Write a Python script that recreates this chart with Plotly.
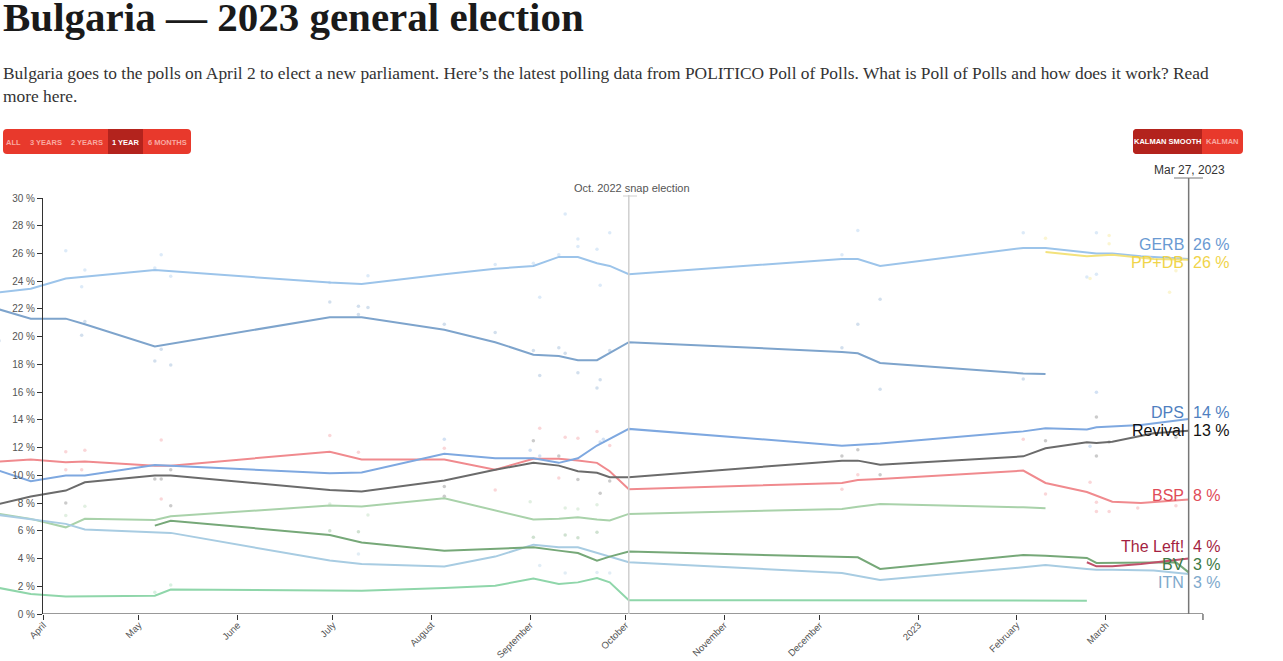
import plotly.graph_objects as go

# ---------------- data ----------------
dates = ["2022-03-18", "2022-03-28", "2022-04-08", "2022-04-14", "2022-05-06", "2022-05-11",
         "2022-06-30", "2022-07-10", "2022-08-05", "2022-08-21", "2022-09-02", "2022-09-10",
         "2022-09-16", "2022-09-22", "2022-09-26", "2022-10-02", "2022-12-08", "2022-12-13",
         "2022-12-20", "2023-02-03", "2023-02-10", "2023-02-23", "2023-02-26", "2023-03-03",
         "2023-03-12", "2023-03-16", "2023-03-23", "2023-03-27"]
N = None
gerb    = [23.2, 23.45, 24.2, N, 24.8, N, 23.9, 23.8, 24.5, 24.9, 25.1, 25.75, 25.75, 25.3, 25.1, 24.5,
           25.6, 25.6, 25.1, 26.4, 26.4, 26.1, 26.0, 26.0, 25.8, N, N, 25.6]
pp_db   = [N] * 20 + [26.1, 25.8, N, 25.9, N, 25.6, N, 25.55]
pp      = [21.97, 21.3, 21.3, 20.9, 19.3, N, 21.4, 21.4, 20.5, 19.6, 18.7, 18.6, 18.3, 18.3, N, 19.6,
           18.9, 18.8, 18.1, 17.35, 17.3] + [N] * 7
dps     = [10.34, 9.57, 9.98, 9.98, 10.75, 10.7, 10.15, 10.2, 11.55, 11.23, 11.23, 10.9, 11.23, 12.15, N,
           13.35, 12.14, N, 12.3, 13.17, 13.4, 13.3, 13.46, N, 13.63, N, N, 14.06]
revival = [7.94, 8.47, 8.9, 9.5, 9.98, 9.98, 8.95, 8.83, 9.62, 10.4, 10.9, 10.7, 10.3, 10.18, 9.86, 9.86,
           11.06, 11.06, 10.77, 11.37, 11.95, 12.38, 12.33, 12.43, N, 13.03, N, 13.22]
bsp     = [11.0, 11.14, 10.95, 11.0, 10.7, 10.7, 11.7, 11.14, 11.14, 10.4, 11.2, 11.2, 11.07, 10.9, 10.3,
           9.0, 9.45, 9.67, 9.74, 10.34, 9.45, 8.8, N, 8.1, 8.0, N, N, 8.25]
db      = [7.22, 6.86, 6.25, 6.86, 6.78, 7.05, 7.82, 7.75, 8.35, N, 6.81, 6.86, 6.98, 6.81, 6.74, 7.22,
           7.57, 7.74, 7.93, 7.69, 7.62] + [N] * 7
itn     = [7.14, 6.86, 6.5, 6.09, 5.89, 5.85, 3.85, 3.6, 3.42, 4.14, 5.0, 4.81, 4.81, 4.4, 4.14, 3.73,
           2.96, 2.76, 2.45, 3.37, 3.53, 3.25, 3.2, 3.2, N, 3.13, N, 2.88]
bv      = [N, N, N, N, 6.37, 6.73, 5.7, 5.15, 4.57, 4.69, 4.81, 4.57, 4.4, 3.85, 4.14, 4.5,
           4.09, 4.09, 3.25, 4.25, 4.2, 4.04, 3.68, 3.68, 3.68, N, 3.73, 3.0]
the_left = [N] * 21 + [3.73, 3.44, 3.44, 3.6, N, N, 4.0]
stand_up = [1.88, 1.44, 1.27, 1.27, 1.32, 1.76, 1.68, 1.68, 1.88, 2.04, 2.55, 2.16, 2.28, 2.6, 2.28,
            1.0, N, N, N, N, N, 0.96] + [N] * 6

series_names = ["Stand Up", "DB", "ITN", "BV", "BSP", "Revival", "DPS", "PP", "GERB", "PP+DB", "The Left!"]
series_values = [stand_up, db, itn, bv, bsp, revival, dps, pp, gerb, pp_db, the_left]

# individual polls (faint dots)
poll_party = (["GERB"] * 24 + ["PP"] * 25 + ["BSP"] * 26 + ["Revival"] * 20 + ["DPS"] * 7
              + ["ITN"] * 5 + ["DB"] * 8 + ["BV"] * 6 + ["PP+DB"] * 6 + ["Stand Up"] * 2)
poll_date = (
    ["2022-04-08", "2022-04-14", "2022-04-13", "2022-05-06", "2022-05-08", "2022-05-11", "2022-06-30",
     "2022-07-12", "2022-08-21", "2022-09-02", "2022-09-12", "2022-09-16", "2022-09-16", "2022-09-22",
     "2022-09-23", "2022-09-26", "2022-09-10", "2022-09-04", "2022-12-08", "2022-12-13", "2023-02-03",
     "2023-02-23", "2023-02-26", "2023-02-26"]
    + ["2022-03-18", "2022-04-13", "2022-04-14", "2022-05-08", "2022-05-06", "2022-05-11", "2022-06-30",
       "2022-07-09", "2022-07-12", "2022-07-09", "2022-08-05", "2022-08-21", "2022-09-02", "2022-09-04",
       "2022-09-10", "2022-09-12", "2022-09-16", "2022-09-22", "2022-09-23", "2022-09-26", "2022-12-08",
       "2022-12-13", "2022-12-20", "2022-12-20", "2023-02-03"]
    + ["2022-04-08", "2022-04-08", "2022-04-13", "2022-04-14", "2022-05-08", "2022-05-08", "2022-06-30",
       "2022-07-09", "2022-08-05", "2022-08-21", "2022-09-04", "2022-09-10", "2022-09-12", "2022-09-16",
       "2022-09-22", "2022-09-26", "2022-12-08", "2022-12-13", "2023-02-03", "2023-02-10", "2023-02-24",
       "2023-02-26", "2023-02-26", "2023-03-02", "2023-03-11", "2023-03-23"]
    + ["2022-04-08", "2022-05-06", "2022-05-08", "2022-05-11", "2022-05-11", "2022-08-05", "2022-08-05",
       "2022-09-02", "2022-09-10", "2022-09-16", "2022-09-23", "2022-09-26", "2022-12-08", "2022-12-13",
       "2022-12-20", "2023-02-10", "2023-02-26", "2023-02-26", "2023-03-02", "2023-03-23"]
    + ["2022-08-05", "2022-09-01", "2022-09-04", "2022-09-23", "2022-09-24", "2023-02-26", "2023-02-24"]
    + ["2022-07-09", "2022-09-04", "2022-09-12", "2022-09-22", "2022-09-26"]
    + ["2022-04-08", "2022-04-14", "2022-06-30", "2022-07-12", "2022-09-01", "2022-09-12", "2022-09-16",
       "2022-09-22"]
    + ["2022-06-30", "2022-07-09", "2022-09-02", "2022-09-12", "2022-09-16", "2022-09-22"]
    + ["2023-02-10", "2023-02-24", "2023-03-02", "2023-03-02", "2023-03-21", "2023-03-23"]
    + ["2022-05-06", "2022-05-11"]
)
poll_value = (
    [26.2, 24.8, 23.6, 24.95, 25.9, 24.35, 23.9, 24.4, 25.2, 25.3, 28.85, 27.05, 26.5, 26.3, 23.7, 27.5,
     25.9, 22.85, 25.9, 27.65, 27.5, 24.3, 27.5, 24.5]
    + [19.7, 20.1, 21.1, 19.1, 18.25, 17.95, 22.5, 22.2, 22.1, 21.6, 20.9, 20.3, 19.0, 17.2, 19.2, 18.8,
       17.4, 16.3, 16.9, 19.0, 19.2, 20.9, 22.7, 16.2, 16.95]
    + [11.7, 10.4, 10.4, 11.8, 12.55, 8.3, 12.87, 11.67, 11.96, 8.95, 13.4, 9.8, 12.75, 12.68, 13.16,
       12.15, 9.0, 10.05, 12.6, 8.65, 9.5, 8.05, 7.4, 7.4, 7.65, 7.8]
    + [8.0, 9.74, 9.74, 10.4, 7.8, 8.5, 9.2, 12.5, 11.4, 9.7, 8.7, 9.6, 11.4, 11.85, 10.05, 12.5, 14.2,
       11.4, 12.4, 12.74]
    + [12.6, 11.8, 11.4, 12.4, 12.6, 16.0, 12.1]
    + [4.33, 3.5, 2.96, 3.0, 2.96]
    + [7.1, 7.77, 7.94, 7.14, 8.1, 7.65, 7.58, 7.87]
    + [6.0, 5.94, 5.53, 5.7, 5.5, 5.9]
    + [27.1, 24.2, 27.3, 26.7, 23.2, 24.76]
    + [1.56, 2.1]
)

final_labels = ["GERB", "PP+DB", "DPS", "Revival", "BSP", "The Left!", "BV", "ITN"]
final_values = [26, 26, 14, 13, 8, 4, 3, 3]

month_ticks = ["2022-04-01", "2022-05-01", "2022-06-01", "2022-07-01", "2022-08-01", "2022-09-01",
               "2022-10-01", "2022-11-01", "2022-12-01", "2023-01-01", "2023-02-01", "2023-03-01"]
month_labels = ["April", "May", "June", "July", "August", "September", "October", "November",
                "December", "2023", "February", "March"]

range_buttons = ["ALL", "3 YEARS", "2 YEARS", "1 YEAR", "6 MONTHS"]
mode_buttons = ["KALMAN SMOOTH", "KALMAN"]

# ---------------- styles / layout ----------------
line_colors = {
    "GERB": "#9cc4ea", "PP+DB": "#f3e27c", "PP": "#7ea4cc", "DPS": "#7ea8e0", "Revival": "#6b6b6b",
    "BSP": "#f08a8e", "DB": "#a9d2aa", "ITN": "#a8cce2", "BV": "#76a878", "The Left!": "#c0506a",
    "Stand Up": "#8fd6aa",
}
label_colors = {
    "GERB": "#6a9ad2", "PP+DB": "#f0d44a", "DPS": "#4f7fbf", "Revival": "#111111", "BSP": "#e04c58",
    "The Left!": "#a41f42", "BV": "#3d7a44", "ITN": "#7ea9cc",
}
label_px_y = {"GERB": 244, "PP+DB": 262, "DPS": 412, "Revival": 430, "BSP": 495,
              "The Left!": 546, "BV": 564, "ITN": 582}

W, H = 1283, 661
MT, MB = 198, 47
PH = H - MT - MB


def X(px):
    return px / W


def Y(py):
    return (H - MB - py) / PH


def rr(x0, y0, x1, y1, rl, rr_):
    return (f"M {X(x0 + rl)},{Y(y0)} L {X(x1 - rr_)},{Y(y0)} Q {X(x1)},{Y(y0)} {X(x1)},{Y(y0 + rr_)} "
            f"L {X(x1)},{Y(y1 - rr_)} Q {X(x1)},{Y(y1)} {X(x1 - rr_)},{Y(y1)} "
            f"L {X(x0 + rl)},{Y(y1)} Q {X(x0)},{Y(y1)} {X(x0)},{Y(y1 - rl)} "
            f"L {X(x0)},{Y(y0 + rl)} Q {X(x0)},{Y(y0)} {X(x0 + rl)},{Y(y0)} Z")


fig = go.Figure()

for name in series_names:
    xs = [d for d, p in zip(poll_date, poll_party) if p == name]
    ys = [v for v, p in zip(poll_value, poll_party) if p == name]
    if xs:
        fig.add_trace(go.Scatter(x=xs, y=ys, mode="markers", hoverinfo="skip", showlegend=False,
                                 marker=dict(size=3.5, color=line_colors[name], opacity=0.35)))

for name, vals in zip(series_names, series_values):
    fig.add_trace(go.Scatter(x=dates, y=vals, mode="lines", connectgaps=True, hoverinfo="skip",
                             showlegend=False, line=dict(color=line_colors[name], width=2)))

sans = "Liberation Sans, Arial, sans-serif"
serif = "Liberation Serif, Times New Roman, serif"

shapes = [
    dict(type="line", xref="x", yref="y", x0="2022-03-31 12:00", x1="2023-03-31 12:00", y0=0, y1=0,
         line=dict(color="#333", width=1)),
    dict(type="line", xref="x", yref="paper", x0="2023-03-31 12:00", x1="2023-03-31 12:00", y0=0,
         y1=-6 / PH, line=dict(color="#333", width=1)),
    dict(type="line", xref="x", yref="paper", x0="2022-10-02", x1="2022-10-02", y0=0, y1=Y(195),
         line=dict(color="#cfcfcf", width=1.5)),
    dict(type="line", xref="paper", yref="paper", x0=X(623), x1=X(637), y0=Y(196), y1=Y(196),
         line=dict(color="#cfcfcf", width=1)),
    dict(type="line", xref="x", yref="paper", x0="2023-03-27", x1="2023-03-27", y0=0, y1=Y(178),
         line=dict(color="#777", width=1.5)),
    dict(type="line", xref="paper", yref="paper", x0=X(1174), x1=X(1203), y0=Y(178), y1=Y(178),
         line=dict(color="#777", width=1)),
    # button groups
    dict(type="path", xref="paper", yref="paper", path=rr(3, 129, 191, 154, 4, 4),
         fillcolor="#e8392c", line=dict(width=0)),
    dict(type="rect", xref="paper", yref="paper", x0=X(108), x1=X(143), y0=Y(154), y1=Y(129),
         fillcolor="#b3231d", line=dict(width=0)),
    dict(type="path", xref="paper", yref="paper", path=rr(1133, 129, 1243, 154, 4, 4),
         fillcolor="#e8392c", line=dict(width=0)),
    dict(type="path", xref="paper", yref="paper", path=rr(1133, 129, 1202, 154, 4, 0),
         fillcolor="#b3231d", line=dict(width=0)),
]

ann = []
ann.append(dict(text="Bulgaria — 2023 general election", xref="paper", yref="paper", x=X(1), y=Y(17),
                xanchor="left", yanchor="middle", showarrow=False,
                font=dict(family=serif, size=41, weight=700, color="#1a1a1a")))
ann.append(dict(text="Bulgaria goes to the polls on April 2 to elect a new parliament. Here’s the latest "
                     "polling data from POLITICO Poll of Polls. What is Poll of Polls and how does it work? "
                     "Read<br>more here.",
                xref="paper", yref="paper", x=X(1), y=Y(84), xanchor="left", yanchor="middle",
                align="left", showarrow=False, font=dict(family=serif, size=17.4, color="#333")))

btn_cx = [13, 45.5, 87.5, 125.5, 167]
for t, cx in zip(range_buttons, btn_cx):
    ann.append(dict(text=t, xref="paper", yref="paper", x=X(cx), y=Y(142), showarrow=False,
                    xanchor="center", yanchor="middle",
                    font=dict(family=sans, size=7.5, weight=700,
                              color="#ffffff" if t == "1 YEAR" else "#f8aaa2")))
for t, cx in zip(mode_buttons, [1167.5, 1222.5]):
    ann.append(dict(text=t, xref="paper", yref="paper", x=X(cx), y=Y(141.5), showarrow=False,
                    xanchor="center", yanchor="middle",
                    font=dict(family=sans, size=7.5, weight=700,
                              color="#ffffff" if t == "KALMAN SMOOTH" else "#f8aaa2")))

ann.append(dict(text="Oct. 2022 snap election", xref="paper", yref="paper", x=X(632), y=Y(188),
                showarrow=False, xanchor="center", yanchor="middle",
                font=dict(family=sans, size=11, color="#555")))
ann.append(dict(text="Mar 27, 2023", xref="paper", yref="paper", x=X(1189), y=Y(170),
                showarrow=False, xanchor="center", yanchor="middle",
                font=dict(family=sans, size=12, color="#333")))

for name, val in zip(final_labels, final_values):
    py = label_px_y[name]
    ann.append(dict(text=name, xref="paper", yref="paper", x=X(1186), y=Y(py), showarrow=False,
                    xanchor="right", yanchor="middle",
                    font=dict(family=sans, size=16, color=label_colors[name])))
    ann.append(dict(text=f"{val} %", xref="paper", yref="paper", x=X(1191), y=Y(py), showarrow=False,
                    xanchor="left", yanchor="middle",
                    font=dict(family=sans, size=16, color=label_colors[name])))

fig.update_layout(
    width=W, height=H, margin=dict(l=0, r=0, t=MT, b=MB, pad=0, autoexpand=False),
    paper_bgcolor="white", plot_bgcolor="white",
    font=dict(family=sans),
    xaxis=dict(type="date", range=["2022-03-18 07:48", "2023-04-25 15:48"], domain=[0, 1],
               automargin=False, ticklabelstandoff=-4,
               showgrid=False, zeroline=False, showline=False, ticks="outside", ticklen=5,
               tickcolor="#333", tickvals=month_ticks, ticktext=month_labels, tickangle=-45,
               tickfont=dict(family=sans, size=9.5, color="#555")),
    yaxis=dict(range=[0, 30], anchor="free", position=42 / W, showgrid=False, zeroline=False,
               automargin=False,
               showline=True, linecolor="#333", linewidth=1, ticks="outside", ticklen=5,
               tickcolor="#333", dtick=2, tick0=0, ticksuffix=" %",
               tickfont=dict(family=sans, size=10, color="#555")),
    shapes=shapes, annotations=ann,
)

fig.write_html("out.html", config={"displayModeBar": False})
